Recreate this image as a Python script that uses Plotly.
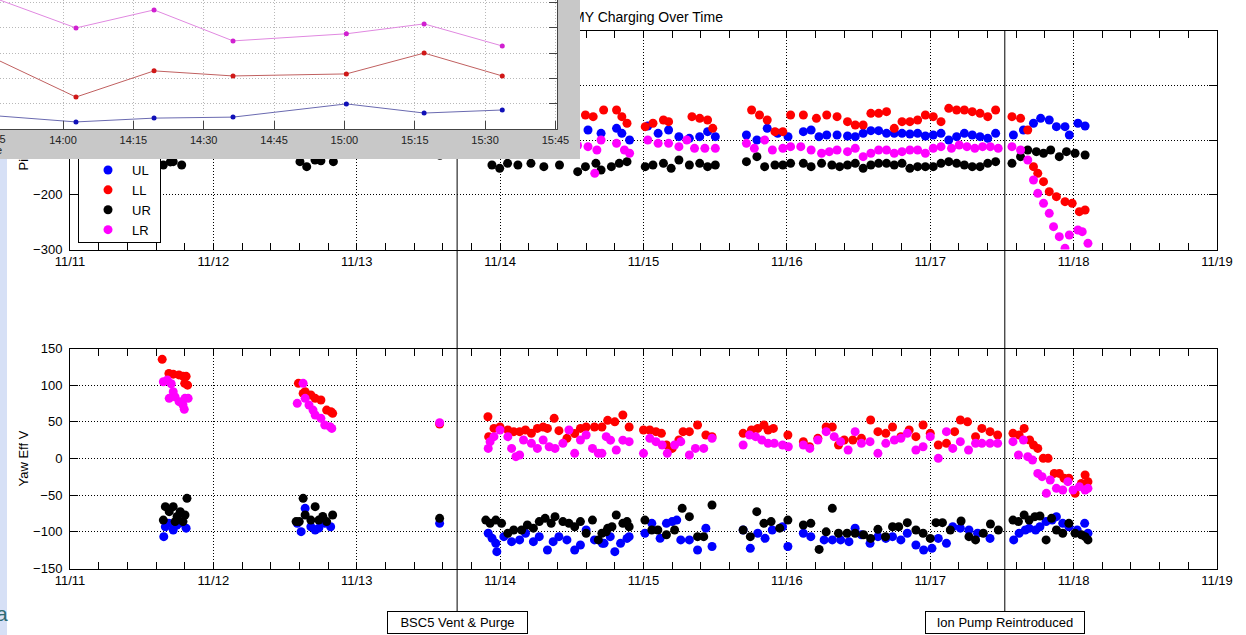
import numpy as np
import pandas as pd
import plotly.graph_objects as go

W, H = 1246, 635
FONT = "Liberation Sans"

# ---------------- data (day-of-November as decimal) ----------------
# Pitch (top panel)
pitch_ul_day = [11.64, 11.68, 11.72, 11.76, 11.80, 12.60, 12.65, 12.70, 12.75, 12.82, 13.58,
                13.92, 13.98, 14.05, 14.12, 14.20, 14.28, 14.36, 14.44, 14.52, 14.613, 14.704, 14.812, 14.849, 14.903,
                15.03, 15.102, 15.175, 15.247, 15.32, 15.392, 15.447, 15.501,
                15.718, 15.791, 15.863, 15.936, 16.008,
                16.115, 16.169, 16.224, 16.278, 16.350, 16.423, 16.477, 16.532, 16.586, 16.640, 16.695, 16.749, 16.803,
                16.858, 16.912, 16.966, 17.021, 17.075, 17.129, 17.184, 17.238, 17.293, 17.347, 17.401, 17.456,
                17.58, 17.65, 17.72, 17.77, 17.83, 17.88, 17.94, 17.97, 18.03, 18.08]
pitch_ul = [-95, -88, -92, -85, -90, -92, -86, -90, -84, -88, -90,
            -88, -92, -85, -90, -84, -88, -80, -86, -90, -81.7, -87.8, -78.7, -87.8, -100,
            -74.4, -87.8, -81.7, -93.9, -97, -93.9, -84.8, -93.9,
            -90.9, -100, -78.7, -87.8, -93.9,
            -84.8, -81.7, -93.9, -90.9, -90.9, -92.7, -93.9, -87.8, -83, -83, -87.8, -87.8, -87.8,
            -89, -87.8, -92.7, -90.9, -87.8, -100, -93.9, -87.8, -90.9, -93.9, -97, -87.8,
            -90.9, -81.7, -69.5, -60.4, -63.5, -75.6, -75.6, -90.9, -69.5, -74.4]

pitch_ll_day = [11.65, 11.70, 11.74, 11.78, 11.82, 12.60, 12.64, 12.69, 12.74, 12.80, 12.84, 13.58,
                13.92, 13.97, 14.03, 14.10, 14.18, 14.26, 14.34, 14.42, 14.50, 14.595, 14.649, 14.722, 14.812, 14.849, 14.885,
                15.012, 15.066, 15.139, 15.175, 15.338, 15.392, 15.447, 15.483,
                15.754, 15.809, 15.863, 15.917, 15.972, 16.026,
                16.115, 16.206, 16.278, 16.350, 16.423, 16.477, 16.532, 16.586, 16.640, 16.695, 16.749, 16.803,
                16.858, 16.912, 16.966, 17.021, 17.075, 17.129, 17.184, 17.238, 17.293, 17.347, 17.401, 17.456,
                17.57, 17.63, 17.68, 17.72, 17.75, 17.79, 17.83, 17.88, 17.94, 17.99, 18.04, 18.08]
pitch_ll = [-48, -40, -52, -45, -55, -45, -50, -42, -55, -48, -52, -50,
            -52, -60, -48, -55, -45, -58, -50, -62, -55, -54.3, -57.4, -45.2, -45.2, -57.4, -69.5,
            -75.6, -69.5, -63.5, -66.5, -57.4, -60.4, -63.5, -78.7,
            -45.2, -54.3, -63.5, -84.8, -84.8, -54.3,
            -54.3, -60.4, -54.3, -57.4, -66.5, -72.6, -72.6, -51.3, -51.3, -48.2, -78.7, -66.5,
            -66.5, -63.5, -54.3, -57.4, -66.5, -42.2, -45.2, -45.2, -48.2, -51.3, -57.4, -45.2,
            -57.4, -60.4, -81.7, -148.7, -160.9, -176.1, -194.4, -203.5, -212.6, -215.7, -230.9, -227.9]

pitch_ur_day = [11.60, 11.651, 11.70, 11.72, 11.779, 12.604, 12.651, 12.709, 12.75, 12.837, 13.58,
                13.943, 13.997, 14.052, 14.124, 14.215, 14.305, 14.414, 14.541, 14.595, 14.668, 14.704, 14.776, 14.831, 14.885,
                15.012, 15.066, 15.139, 15.193, 15.247, 15.32, 15.392, 15.447, 15.501,
                15.718, 15.791, 15.845, 15.917, 15.972, 16.026,
                16.115, 16.169, 16.242, 16.314, 16.368, 16.423, 16.477, 16.532, 16.586, 16.640, 16.695, 16.749, 16.803,
                16.858, 16.912, 16.966, 17.021, 17.075, 17.129, 17.184, 17.238, 17.293, 17.347, 17.401, 17.456,
                17.57, 17.63, 17.68, 17.74, 17.79, 17.84, 17.90, 17.95, 18.01, 18.08]
pitch_ur = [-142, -145.7, -140, -139.6, -145.7, -139.6, -148.7, -136.5, -138, -139.6, -128,
            -145.7, -151.7, -142.6, -145.7, -142.6, -148.7, -145.7, -157.8, -148.7, -142.6, -154.8, -148.7, -142.6, -139.6,
            -148.7, -145.7, -142.6, -151.7, -136.5, -145.7, -142.6, -148.7, -145.7,
            -139.6, -130.4, -148.7, -145.7, -145.7, -142.6,
            -142.6, -148.7, -142.6, -145.7, -148.7, -145.7, -142.6, -151.7, -145.7, -142.6, -142.6, -145.7, -142.6,
            -151.7, -148.7, -148.7, -148.7, -142.6, -139.6, -142.6, -145.7, -148.7, -148.7, -142.6, -139.6,
            -142.6, -130.4, -118.3, -121.3, -124.3, -118.3, -130.4, -121.3, -124.3, -127.4]

pitch_lr_day = [11.64, 11.68, 11.72, 11.76, 11.80, 12.60, 12.65, 12.70, 12.76, 12.82, 13.58,
                13.93, 13.99, 14.06, 14.14, 14.22, 14.30, 14.38, 14.46, 14.54, 14.613, 14.66, 14.675, 14.704, 14.812, 14.867, 14.903,
                15.03, 15.102, 15.175, 15.247, 15.302, 15.356, 15.428, 15.501,
                15.718, 15.773, 15.845, 15.899, 15.972, 16.026,
                16.097, 16.169, 16.242, 16.296, 16.350, 16.423, 16.477, 16.532, 16.586, 16.640, 16.695, 16.749, 16.803,
                16.858, 16.912, 16.966, 17.021, 17.075, 17.148, 17.202, 17.256, 17.311, 17.365, 17.419, 17.474,
                17.57, 17.63, 17.68, 17.72, 17.75, 17.79, 17.83, 17.86, 17.90, 17.94, 17.97, 18.03, 18.06, 18.10]
pitch_lr = [-110, -105, -115, -108, -112, -108, -112, -105, -115, -110, -105,
            -112, -108, -115, -110, -118, -105, -112, -116, -110, -112.2, -160.9, -118.3, -100, -106.1, -118.3, -124.3,
            -100, -106.1, -106.1, -112.2, -100, -115.2, -115.2, -115.2,
            -106.1, -115.2, -100, -118.3, -115.2, -112.2,
            -112.2, -118.3, -124.3, -121.3, -118.3, -121.3, -115.2, -130.4, -124.3, -118.3, -118.3, -124.3, -121.3,
            -118.3, -118.3, -124.3, -115.2, -112.2, -115.2, -109.1, -112.2, -115.2, -112.2, -112.2, -115.2,
            -112.2, -118.3, -136.5, -173.1, -197.4, -215.7, -233.9, -258.3, -276.5, -297.9, -273.5, -264.4, -267.4, -288.7]

# Yaw (bottom panel)
yaw_ul_day = [11.654, 11.665, 11.69, 11.72, 11.745, 11.77, 11.81,
              12.585, 12.612, 12.64, 12.68, 12.71, 12.735, 12.776, 12.818, 13.578,
              13.917, 13.944, 13.97, 13.977, 14.026, 14.08, 14.136, 14.177, 14.232, 14.273, 14.33, 14.37, 14.41,
              14.466, 14.52, 14.56, 14.60, 14.658, 14.713, 14.725, 14.768, 14.80, 14.84, 14.885, 14.90,
              15.01, 15.058, 15.116, 15.16, 15.2, 15.232, 15.26, 15.32, 15.377, 15.435, 15.478,
              15.695, 15.745, 15.797, 15.848, 15.898, 15.97, 16.007,
              16.115, 16.167, 16.26, 16.317, 16.375, 16.433, 16.476, 16.52, 16.58, 16.635, 16.69, 16.737, 16.795,
              16.84, 16.9, 16.954, 17.012, 17.056, 17.113, 17.157, 17.21, 17.27, 17.33, 17.417,
              17.582, 17.62, 17.663, 17.69, 17.735, 17.765, 17.808, 17.85, 17.88, 17.924, 17.967, 18.025, 18.077, 18.1]
yaw_ul = [-106.6, -93, -88.4, -97.5, -90.7, -88, -95,
          -88.4, -99.8, -68, -93, -97.5, -95, -88.4, -93, -88.4,
          -102, -108.9, -115.7, -127, -106.6, -113.4, -111, -102, -113.4, -106.6, -124.8, -113.4, -106.6,
          -111, -124.8, -118, -97.5, -111, -115.7, -115.7, -106.6, -127, -115.7, -109, -106.6,
          -102, -88.4, -108.9, -88.4, -86, -84, -111, -111, -124.8, -95, -120,
          -97.5, -122.5, -102, -108.9, -97.5, -93, -120,
          -102, -106.6, -111, -111, -111, -113.4, -95, -104, -115.7, -106.6, -109, -106.6, -111,
          -102, -118, -124.8, -122.5, -109, -115.7, -93, -95, -97.5, -102, -109,
          -111, -102, -97.5, -95.2, -97.5, -93, -86, -84, -79.3, -88.4, -93, -97.5, -88.4, -102]

yaw_ll_day = [11.643, 11.69, 11.72, 11.76, 11.79, 11.80, 11.81, 11.82,
              12.593, 12.626, 12.64, 12.68, 12.71, 12.75, 12.79, 12.82, 12.832, 13.578,
              13.915, 13.92, 13.957, 13.999, 14.054, 14.095, 14.136, 14.177, 14.218, 14.26, 14.30, 14.33, 14.377,
              14.41, 14.466, 14.52, 14.56, 14.60, 14.658, 14.71, 14.75, 14.80, 14.856, 14.90,
              15.0, 15.044, 15.087, 15.125, 15.16, 15.2, 15.247, 15.276, 15.32, 15.377, 15.435, 15.478,
              15.695, 15.753, 15.797, 15.84, 15.869, 15.906, 16.007,
              16.115, 16.158, 16.216, 16.274, 16.317, 16.36, 16.4, 16.46, 16.52, 16.584, 16.635, 16.69, 16.737,
              16.795, 16.853, 16.9, 16.95, 17.0, 17.056, 17.113, 17.17, 17.21, 17.26, 17.316, 17.36, 17.417, 17.47,
              17.577, 17.62, 17.655, 17.693, 17.72, 17.75, 17.788, 17.822, 17.865, 17.9, 17.933, 17.967, 18.01,
              18.054, 18.08, 18.1]
yaw_ll = [135.2, 116, 115, 114, 112, 102.5, 112, 100,
          102.5, 88.8, 91, 86.6, 82, 79.8, 66, 63.8, 61.6, 47,
          57, 29.8, 41, 43, 38.8, 36.6, 36.6, 38.8, 34.3, 41, 43, 41, 54.8,
          38, 27.5, 34, 41, 43, 43, 43, 52, 50, 59.3, 43,
          38.8, 38.8, 36.6, 34.3, 18.4, 13.8, 25.2, 36.6, 36.6, 45.7, 32, 29.8,
          34.3, 38.8, 41, 45.7, 38.8, 41, 32,
          23, 16, 27.5, 43, 43, 18.4, 25.2, 25.2, 27.5, 52.5, 36.6, 34.3, 43,
          29.8, 38.8, 29.8, 45.7, 34.3, 18.4, 20.7, 36.6, 52.5, 50, 29.8, 41, 36.6, 32,
          34.3, 32, 41, 25.2, 18.4, 13.8, 0.2, 0.2, -20.3, -20.3, -27, -27, -47.5,
          -34, -22.5, -31.6]

yaw_ur_day = [11.651, 11.665, 11.692, 11.72, 11.733, 11.747, 11.769, 11.788, 11.802, 11.816,
              12.577, 12.599, 12.626, 12.64, 12.68, 12.71, 12.735, 12.763, 12.79, 12.832, 13.578,
              13.90, 13.93, 13.97, 14.01, 14.054, 14.095, 14.15, 14.19, 14.232, 14.273, 14.314, 14.356, 14.383,
              14.438, 14.48, 14.52, 14.56, 14.60, 14.644, 14.685, 14.71, 14.74, 14.75, 14.78, 14.81, 14.856, 14.885, 14.90,
              15.01, 15.058, 15.1, 15.16, 15.217, 15.27, 15.32, 15.377, 15.42, 15.478,
              15.695, 15.745, 15.79, 15.84, 15.89, 15.95, 16.007,
              16.115, 16.167, 16.225, 16.274, 16.317, 16.36, 16.42, 16.476, 16.535, 16.584, 16.635, 16.688, 16.737,
              16.78, 16.84, 16.9, 16.95, 17.0, 17.04, 17.085, 17.14, 17.215, 17.27, 17.316, 17.37, 17.42, 17.475,
              17.577, 17.615, 17.655, 17.69, 17.73, 17.765, 17.808, 17.846, 17.88, 17.924, 17.967, 18.01, 18.054,
              18.08, 18.1]
yaw_ur = [-84, -65.7, -72.5, -65.7, -86, -79, -72.5, -86, -77, -54.3,
          -86, -86, -54.3, -77, -84, -65.7, -84, -79, -86, -77, -81.6,
          -84, -88.4, -84, -88.4, -102, -97.5, -97.5, -90.7, -95, -86, -81.6, -88.4, -79.3,
          -86, -88.4, -93, -86, -102, -84, -111, -102, -100, -95.2, -93, -77, -88.4, -86, -93,
          -84, -97.5, -97.5, -104, -97.5, -68, -79.3, -106.6, -106.6, -63.4,
          -97.5, -106.6, -72.5, -88.4, -86, -95, -84,
          -90.7, -88.4, -124, -100, -68, -102, -102, -102, -104, -109, -96.6, -106.6, -93,
          -93, -87.5, -97.5, -102, -109, -87.5, -87.5, -97.5, -85.2, -106.6, -111, -102, -89.3, -97.5,
          -84, -86, -77, -84, -79.3, -78.4, -111, -81.6, -97.5, -102, -88.4, -102, -104,
          -106.6, -111]

yaw_lr_day = [11.651, 11.679, 11.692, 11.706, 11.72, 11.733, 11.761, 11.788, 11.797, 11.802, 11.824,
              12.585, 12.626, 12.64, 12.667, 12.695, 12.71, 12.75, 12.777, 12.813, 12.826, 13.578,
              13.917, 13.93, 13.957, 13.999, 14.054, 14.08, 14.11, 14.136, 14.163, 14.218, 14.26, 14.30, 14.342,
              14.383, 14.438, 14.48, 14.52, 14.56, 14.60, 14.644, 14.685, 14.71, 14.74, 14.77, 14.81, 14.856, 14.90,
              15.0, 15.044, 15.087, 15.13, 15.166, 15.217, 15.26, 15.32, 15.362, 15.42, 15.478,
              15.695, 15.74, 15.782, 15.825, 15.869, 15.912, 15.97, 16.01,
              16.115, 16.16, 16.216, 16.274, 16.33, 16.375, 16.427, 16.476, 16.52, 16.58, 16.635, 16.69, 16.75,
              16.795, 16.84, 16.9, 16.95, 17.0, 17.056, 17.113, 17.157, 17.21, 17.267, 17.316, 17.36, 17.417, 17.47,
              17.577, 17.615, 17.65, 17.68, 17.713, 17.75, 17.78, 17.81, 17.837, 17.88, 17.924, 17.96, 17.996,
              18.04, 18.08, 18.1]
yaw_lr = [104.7, 107, 82, 102, 91, 84, 77.5, 73, 67, 82, 82,
          75.2, 102.5, 82, 73, 66, 59.3, 54.8, 45.7, 43.4, 41, 48.8,
          13.8, 23, 29.8, 38.8, 29.8, 13.8, 2.5, 4.8, 25.2, 20.7, 13.8, 25.2, 16,
          13.8, 20.7, 38.8, 7, 25.2, 32, 13.8, 7, 7, 29.8, 25, 11.6, 25, 23,
          7, 27.5, 23, 18.4, 7, 18.4, 23, 4.8, 13.8, 13.8, 27.5,
          18.4, 32, 29.8, 25.2, 20.7, 20.7, 18.4, 16,
          18.4, 13.8, 25.2, 36.6, 29.8, 23, 11.6, 36.6, 20.7, 23, 7, 20.7, 25.2,
          27.5, 34.3, 11.6, 16, 29.8, 0.2, 36.6, 13.8, 23, 11.6, 20.7, 20.7, 20.7, 20.7,
          23, 4.8, 25.2, 2.5, -2, -20.3, -24.8, -47.5, -29.3, -40.7, -43, -31.6, -43,
          -38.4, -43, -40.7]

# events
event_day = [13.70, 17.52]
event_label = ["BSC5 Vent & Purge", "Ion Pump Reintroduced"]

# inset (time of day, arbitrary units)
inset_time = ["13:44:00", "14:02:46", "14:19:25", "14:36:15", "15:00:25", "15:17:00", "15:33:40"]
inset_blue = [0.556, 0.29, 0.44, 0.48, 1.00, 0.64, 0.76]
inset_red = [2.91, 1.27, 2.30, 2.10, 2.18, 3.00, 2.10]
inset_mag = [5.26, 3.99, 4.70, 3.48, 3.76, 4.15, 3.28]

series_names = ["UL", "LL", "UR", "LR"]
series_colors = ["#0000ff", "#ff0000", "#000000", "#ff00ff"]

title_text = "ETMY Charging Over Time"
title_pos = "2011-11-14 23:15"
pitch_label = "Pitch Eff V"
pitch_label_pos = -104
yaw_label = "Yaw Eff V"

# ---------------- helpers ----------------
def to_dt(days):
    return pd.Timestamp("2011-10-31") + pd.to_timedelta(np.array(days, dtype=float), unit="D")

def px(p):
    return p / W

def py(p):
    return 1 - p / H

fig = go.Figure()

pitch = [(pitch_ul_day, pitch_ul), (pitch_ll_day, pitch_ll), (pitch_ur_day, pitch_ur), (pitch_lr_day, pitch_lr)]
yaw = [(yaw_ul_day, yaw_ul), (yaw_ll_day, yaw_ll), (yaw_ur_day, yaw_ur), (yaw_lr_day, yaw_lr)]

for (d, v), name, col in zip(pitch, series_names, series_colors):
    fig.add_trace(go.Scatter(x=to_dt(d), y=v, mode="markers", name=name, legendgroup=name,
                             marker=dict(size=9, color=col, line=dict(width=0)),
                             xaxis="x", yaxis="y"))
for (d, v), name, col in zip(yaw, series_names, series_colors):
    fig.add_trace(go.Scatter(x=to_dt(d), y=v, mode="markers", name=name, legendgroup=name,
                             showlegend=False,
                             marker=dict(size=9, color=col, line=dict(width=0)),
                             xaxis="x2", yaxis="y2"))

# subplot 3: carries the title and the pitch label (drawn below the pasted inset)
fig.add_trace(go.Scatter(x=[None], y=[None], xaxis="x3", yaxis="y3", showlegend=False, hoverinfo="skip"))
# subplot 4: gray window of the pasted inset
fig.add_trace(go.Scatter(x=[None], y=[None], xaxis="x4", yaxis="y4", showlegend=False, hoverinfo="skip"))
# subplot 5: inset plot
inset_dt = pd.to_datetime(["2011-11-18 " + t for t in inset_time], format="%Y-%m-%d %H:%M:%S")
for vals, lc, mc in [(inset_blue, "#6a6ab0", "#1010b8"), (inset_red, "#c06060", "#d01818"),
                     (inset_mag, "#e088e0", "#d020d0")]:
    fig.add_trace(go.Scatter(x=inset_dt, y=vals, mode="lines+markers", showlegend=False,
                             line=dict(color=lc, width=1), marker=dict(size=5, color=mc),
                             xaxis="x5", yaxis="y5", hoverinfo="skip"))

grid_dot = "1px,2px"
x_range = ["2011-11-11", "2011-11-19"]
common_x = dict(type="date", range=x_range, dtick=86400000, tick0="2011-11-11",
                tickformat="%m/%d", ticks="inside", ticklen=7, tickcolor="black", showline=True,
                linecolor="black", linewidth=1, mirror="ticks", showgrid=True, gridcolor="black",
                griddash=grid_dot, gridwidth=1, domain=[px(70), px(1217)],
                tickfont=dict(family=FONT, size=13, color="black"),
                minor=dict(dtick=0.2 * 86400000, ticks="inside", ticklen=7, tickcolor="black", showgrid=False),
                fixedrange=True)
common_y = dict(ticks="inside", ticklen=8, tickcolor="black", showline=True, linecolor="black", linewidth=1,
                mirror="ticks", showgrid=True, gridcolor="black", griddash=grid_dot, gridwidth=1,
                zeroline=False, tickfont=dict(family=FONT, size=13, color="black"), ticklabelstandoff=4,
                fixedrange=True)
inset_range = ["2011-11-18 13:46:34", "2011-11-18 15:45:20"]

fig.update_layout(
    width=W, height=H, margin=dict(l=0, r=0, t=0, b=0, autoexpand=False),
    paper_bgcolor="white", plot_bgcolor="rgba(0,0,0,0)",
    font=dict(family=FONT, size=13, color="black"),
    xaxis=dict(common_x, anchor="y"),
    yaxis=dict(common_y, anchor="x", range=[-300, 100], dtick=100, domain=[py(249.5), py(30.5)]),
    xaxis2=dict(common_x, anchor="y2"),
    yaxis2=dict(common_y, anchor="x2", range=[-150, 150], dtick=50, domain=[py(568.5), py(348.5)]),
    xaxis3=dict(type="date", range=x_range, domain=[px(70), px(1217)], anchor="y3", side="top",
                tickvals=[title_pos], ticktext=[title_text], ticks="", showline=False, showgrid=False,
                zeroline=False, tickfont=dict(family=FONT, size=14, color="black"), ticklabelstandoff=5,
                fixedrange=True),
    yaxis3=dict(range=[-300, 100], domain=[py(249.5), py(30.5)], anchor="free", position=px(31),
                side="left", tickvals=[pitch_label_pos], ticktext=[pitch_label], tickangle=-90, ticks="",
                showline=False, showgrid=False, zeroline=False,
                tickfont=dict(family=FONT, size=13, color="black"), ticklabelstandoff=0, fixedrange=True),
    xaxis4=dict(domain=[0, px(580)], range=[0, 1], visible=False, anchor="y4", fixedrange=True),
    yaxis4=dict(domain=[py(159), 1], range=[0, 1], visible=False, anchor="x4", fixedrange=True),
    xaxis5=dict(domain=[0, px(557)], anchor="y5", type="date", range=inset_range, dtick=900000,
                tick0="2011-11-18 14:00", tickformat="%H:%M", ticks="inside", ticklen=8, tickcolor="#444",
                showline=True, linecolor="#444", linewidth=1, showgrid=True, gridcolor="#b8b8b8",
                griddash=grid_dot, tickfont=dict(family=FONT, size=11, color="#222"), fixedrange=True),
    yaxis5=dict(domain=[py(129.3), 1], anchor="x5", side="right", range=[0, 5.09], dtick=1,
                ticks="inside", ticklen=8, tickcolor="#444", showline=True, linecolor="#444",
                showticklabels=False, showgrid=True, gridcolor="#b8b8b8", griddash=grid_dot,
                zeroline=False, fixedrange=True),
    legend=dict(x=px(84), y=py(245), xanchor="left", yanchor="bottom", bgcolor="rgba(0,0,0,0)",
                borderwidth=0, font=dict(family=FONT, size=13, color="black"),
                tracegroupgap=0, itemwidth=38),
    showlegend=True,
)

shapes = [
    # light-blue slide strip at left
    dict(type="rect", xref="paper", yref="paper", x0=0, x1=px(7), y0=0, y1=py(159),
         fillcolor="#d6e0f6", line=dict(width=0), layer="below"),
    # gray inset window (inside subplot 4)
    dict(type="rect", xref="x4", yref="y4", x0=0, x1=1, y0=0, y1=1,
         fillcolor="#c8c8c8", line=dict(width=0), layer="below"),
    # white plotting area of the inset (inside subplot 5)
    dict(type="rect", xref="x5", yref="y5", x0=inset_range[0], x1=inset_range[1], y0=0, y1=5.09,
         fillcolor="white", line=dict(width=0), layer="below"),
    # legend box (its top is hidden under the inset)
    dict(type="rect", xref="paper", yref="paper", x0=px(78), x1=px(160), y0=py(243), y1=py(159),
         fillcolor="white", line=dict(width=0), layer="above"),
]
for xa, ya, xb, yb in [(78.5, 159, 78.5, 243), (78.5, 242.5, 160.5, 242.5), (160.5, 243, 160.5, 159)]:
    shapes.append(dict(type="line", xref="paper", yref="paper", x0=px(xa), y0=py(ya), x1=px(xb), y1=py(yb),
                       line=dict(color="black", width=1), layer="above"))
for d in event_day:
    t = to_dt([d])[0]
    shapes.append(dict(type="line", xref="x", yref="paper", x0=t, x1=t, y0=py(611), y1=py(31),
                       line=dict(color="black", width=1), layer="below"))
fig.update_layout(shapes=shapes)

annotations = []
for d, lab, wdt in zip(event_day, event_label, [133, 152]):
    t = to_dt([d])[0]
    annotations.append(dict(x=t, xref="x", y=py(611), yref="paper", xanchor="center", yanchor="top",
                            text=lab, showarrow=False, bgcolor="white", bordercolor="black",
                            borderwidth=1, borderpad=3, width=wdt,
                            font=dict(family=FONT, size=13, color="black")))
annotations += [
    dict(x=px(23), y=py(458.5), xref="paper", yref="paper", text=yaw_label, textangle=-90,
         showarrow=False, xanchor="center", yanchor="middle", font=dict(family=FONT, size=13, color="black")),
    dict(x=px(-8), y=py(138.5), xref="paper", yref="paper", text="13:45", showarrow=False,
         xanchor="center", yanchor="middle", font=dict(family=FONT, size=11, color="#222")),
    dict(x=px(4), y=py(150), xref="paper", yref="paper", text="Time", showarrow=False,
         xanchor="right", yanchor="middle", font=dict(family=FONT, size=11, color="#222")),
    dict(x=px(10), y=py(613), xref="paper", yref="paper", text="a", showarrow=False,
         xanchor="right", yanchor="middle", font=dict(family=FONT, size=21, color="#2e6b72")),
]
fig.update_layout(annotations=annotations)

fig.write_html("out.html")
